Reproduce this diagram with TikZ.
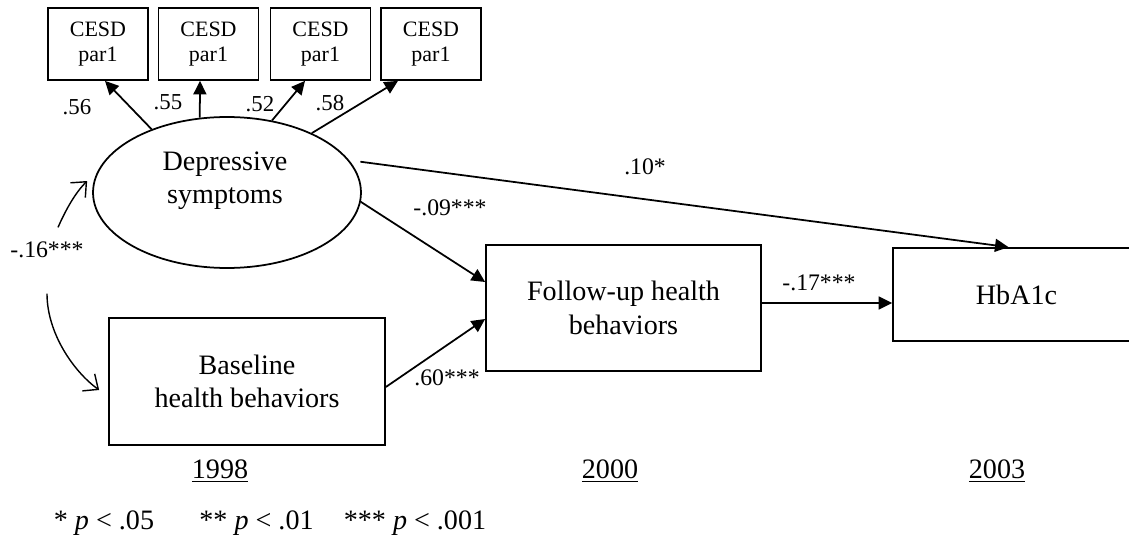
\documentclass[tikz,border=0pt]{standalone}
\usepackage{fontspec}
\setmainfont{Liberation Serif}
\usetikzlibrary{arrows.meta,shapes.geometric,calc}

\begin{document}
\begin{tikzpicture}[x=0.02cm,y=-0.02cm,
    every node/.style={align=center},
    big/.style={font=\fontsize{16}{19}\selectfont},
    obs/.style={draw,line width=1pt,minimum width=2cm,minimum height=1.44cm,font=\fontsize{12.5}{14.2}\selectfont},
    var/.style={draw,line width=1pt,big},
    lbl/.style={font=\fontsize{13.5}{15}\selectfont,inner sep=1pt},
    ld/.style={font=\fontsize{13}{14}\selectfont,inner sep=1pt},
    eff/.style={line width=1pt,-{Triangle[length=0.27cm,width=0.26cm]}},
    covarr/.style={line width=0.8pt,-{Straight Barb[length=0.24cm,width=0.42cm]}}]
    \useasboundingbox (0,0) rectangle (1129,544);
    % indicators
    \node[obs] (C1) at (98,44) {CESD\\par1};
    \node[obs] (C2) at (208.5,44) {CESD\\par1};
    \node[obs] (C3) at (320.5,44) {CESD\\par1};
    \node[obs] (C4) at (431,44) {CESD\\par1};
    % latent factor and measured variables
    \node[ellipse,draw,line width=1pt,minimum width=5.36cm,minimum height=3.02cm,inner sep=0] (D) at (227,192.5) {};
    \node[big] (Dt) at (225,181) {Depressive\\symptoms};
    \node[var,minimum width=5.52cm,minimum height=2.54cm] (B) at (247,381.5) {Baseline\\health behaviors};
    \node[var,minimum width=5.5cm,minimum height=2.52cm] (F) at (623.5,308) {Follow-up health\\behaviors};
    \node[var,minimum width=4.94cm,minimum height=1.86cm] (H) at (1016.5,294.5) {HbA1c};
    % loadings
    \draw[eff] (D.140) -- ([xshift=0.14cm]C1.south);
    \draw[eff] (D.110) -- ([xshift=-0.17cm]C2.south);
    \draw[eff] (D.58) -- ([xshift=-0.31cm]C3.south);
    \draw[eff] (D.35) -- ([xshift=-0.66cm]C4.south);
    \node[ld] (l1) at (77,107) {.56};
    \node[ld] (l2) at (168,102) {.55};
    \node[ld] (l3) at (260,104) {.52};
    \node[ld] (l4) at (330,103) {.58};
    % paths
    \draw[eff] ([xshift=0.2cm]D.14) -- ([xshift=-0.16cm]H.north);
    \draw[eff] (D.-4) -- ([yshift=0.52cm]F.west);
    \draw[eff] ([yshift=-0.11cm]B.east) -- ([yshift=-0.22cm]F.west);
    \draw[eff] ([yshift=0.1cm]F.east) -- ([yshift=-0.17cm]H.west);
    \node[lbl] (e1) at (645,167) {.10*};
    \node[lbl] (e2) at (450,208) {-.09***};
    \node[lbl] (e3) at (447,378) {.60***};
    \node[lbl] (e4) at (819,283) {-.17***};
    % covariance
    \node[lbl] (r) at (47,250) {-.16***};
    \draw[covarr] ([xshift=0.22cm,yshift=0.25cm]r.north) .. controls +(8,-18) and +(-12,12) .. ([xshift=-0.1cm,yshift=0.23cm]D.west);
    \draw[covarr] ([yshift=-0.67cm]r.south) .. controls +(0,40) and +(-25,-18) .. ([xshift=-0.18cm,yshift=-0.17cm]B.west);
    % waves
    \node[big] (y1) at (220,471) {\underline{1998}};
    \node[big] (y2) at (610,471) {\underline{2000}};
    \node[big] (y3) at (997,471) {\underline{2003}};
    \node[big] (p1) at (104,523) {* \textit{p} < .05};
    \node[big] (p2) at (256.5,523) {** \textit{p} < .01};
    \node[big] (p3) at (415,523) {*** \textit{p} < .001};
\end{tikzpicture}
\end{document}
